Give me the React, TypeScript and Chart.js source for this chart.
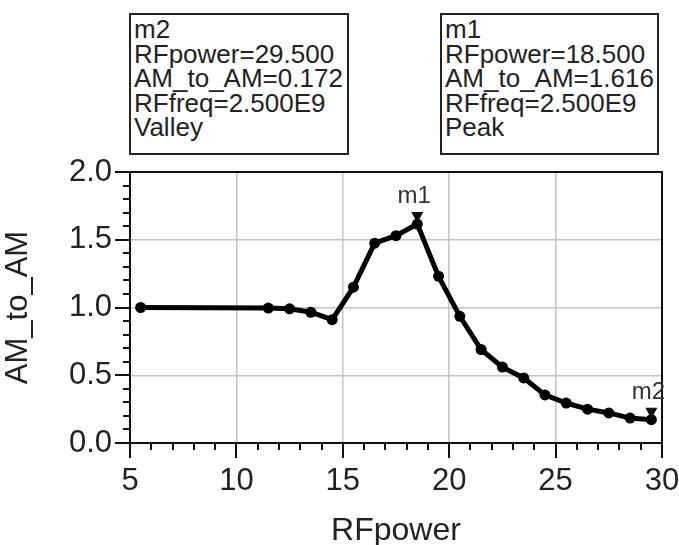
import React, { useEffect, useRef } from "react";
import { Chart, registerables } from "chart.js";

Chart.register(...registerables);

const rfPower = [5.5, 11.5, 12.5, 13.5, 14.5, 15.5, 16.5, 17.5, 18.5, 19.5, 20.5, 21.5, 22.5, 23.5, 24.5, 25.5, 26.5, 27.5, 28.5, 29.5];
const amToAm = [1.0, 0.996, 0.99, 0.965, 0.91, 1.15, 1.475, 1.53, 1.616, 1.23, 0.935, 0.69, 0.56, 0.48, 0.355, 0.295, 0.25, 0.222, 0.184, 0.172];

const markerNames = ["m1", "m2"];
const markerX = [18.5, 29.5];
const markerY = [1.616, 0.172];

const m2Lines = ["m2", "RFpower=29.500", "AM_to_AM=0.172", "RFfreq=2.500E9", "Valley"];
const m1Lines = ["m1", "RFpower=18.500", "AM_to_AM=1.616", "RFfreq=2.500E9", "Peak"];

const FONT = "'Liberation Sans', Arial, sans-serif";

const decorPlugin = {
  id: "decor",
  afterDatasetsDraw(chart: any) {
    const { ctx, chartArea, scales } = chart;
    const { left, right, top, bottom } = chartArea;
    const xs = scales.x;
    const ys = scales.y;
    ctx.save();
    ctx.strokeStyle = "#111";
    ctx.lineWidth = 2;
    ctx.strokeRect(left, top, right - left, bottom - top);
    ctx.lineWidth = 2;
    for (let v = 0; v <= 20; v++) {
      const py = Math.round(ys.getPixelForValue(v / 10));
      const len = v % 5 === 0 ? 15 : 7;
      ctx.beginPath();
      ctx.moveTo(left - len, py);
      ctx.lineTo(left, py);
      ctx.stroke();
    }
    for (let v = 5; v <= 30; v++) {
      const px = Math.round(xs.getPixelForValue(v));
      const len = v % 5 === 0 ? 15 : 7;
      ctx.beginPath();
      ctx.moveTo(px, bottom);
      ctx.lineTo(px, bottom + len);
      ctx.stroke();
    }
    // markers
    ctx.fillStyle = "#111";
    ctx.font = `24px ${FONT}`;
    ctx.textAlign = "center";
    ctx.textBaseline = "alphabetic";
    markerNames.forEach((name, i) => {
      const px = xs.getPixelForValue(markerX[i]);
      const py = ys.getPixelForValue(markerY[i]);
      ctx.beginPath();
      ctx.moveTo(px - 6, py - 12);
      ctx.lineTo(px + 6, py - 12);
      ctx.lineTo(px, py - 1);
      ctx.closePath();
      ctx.fill();
      ctx.fillStyle = "#333";
      ctx.fillText(name, px - 3, py - 21);
      ctx.fillStyle = "#111";
    });
    ctx.restore();
  },
};

function MarkerBox({ lines, left, width }: { lines: string[]; left: number; width: number }) {
  return (
    <div
      style={{
        position: "absolute",
        left,
        top: 13,
        width,
        height: 142,
        boxSizing: "border-box",
        border: "2px solid #222",
        background: "#fff",
        fontFamily: FONT,
        fontSize: 26,
        lineHeight: "24.5px",
        color: "#222",
        paddingLeft: 3,
        paddingTop: 2,
        whiteSpace: "nowrap",
        overflow: "hidden",
      }}
    >
      {lines.map((l, i) => (
        <div key={i}>{l}</div>
      ))}
    </div>
  );
}

export default function App() {
  const canvasRef = useRef<HTMLCanvasElement | null>(null);

  useEffect(() => {
    const canvas = canvasRef.current;
    if (!canvas) return;
    const chart = new Chart(canvas, {
      type: "scatter",
      data: {
        datasets: [
          {
            data: rfPower.map((x, i) => ({ x, y: amToAm[i] })),
            showLine: true,
            borderColor: "#000",
            backgroundColor: "#000",
            borderWidth: 5,
            pointRadius: 5.5,
            pointHoverRadius: 5.5,
            pointBorderWidth: 0,
            tension: 0,
          },
        ],
      },
      options: {
        animation: false,
        responsive: false,
        maintainAspectRatio: false,
        events: [],
        layout: { padding: { top: 172, right: 17, left: 0, bottom: 0 } },
        plugins: { legend: { display: false }, tooltip: { enabled: false } },
        scales: {
          x: {
            type: "linear",
            min: 5,
            max: 30,
            ticks: {
              stepSize: 5,
              autoSkip: false,
              maxRotation: 0,
              font: { family: FONT, size: 31 },
              color: "#222",
              padding: 20,
            },
            grid: { color: "#c4c4c4", lineWidth: 1.5, drawTicks: false },
            border: { display: false },
            title: {
              display: true,
              text: "RFpower",
              font: { family: FONT, size: 32 },
              color: "#222",
              padding: { top: 0, bottom: -5 },
            },
            afterFit(scale: any) {
              scale.height = 102;
              scale.paddingLeft = 0;
              scale.paddingRight = 0;
            },
          },
          y: {
            type: "linear",
            min: 0,
            max: 2,
            ticks: {
              stepSize: 0.5,
              callback: (v: any) => Number(v).toFixed(1),
              font: { family: FONT, size: 31 },
              color: "#222",
              padding: 18,
            },
            grid: { color: "#c4c4c4", lineWidth: 1.5, drawTicks: false },
            border: { display: false },
            title: {
              display: true,
              text: "AM_to_AM",
              font: { family: FONT, size: 31 },
              color: "#222",
              padding: { top: 0, bottom: 14 },
            },
            afterFit(scale: any) {
              scale.width = 130;
              scale.paddingTop = 0;
              scale.paddingBottom = 0;
            },
          },
        },
      },
      plugins: [decorPlugin],
    } as any);
    return () => chart.destroy();
  }, []);

  return (
    <div style={{ position: "absolute", left: 0, top: 0, width: 679, height: 545, background: "#fff" }}>
      <canvas ref={canvasRef} width={679} height={545} style={{ position: "absolute", left: 0, top: 0 }} />
      <MarkerBox lines={m2Lines} left={129} width={220} />
      <MarkerBox lines={m1Lines} left={440} width={219} />
    </div>
  );
}
